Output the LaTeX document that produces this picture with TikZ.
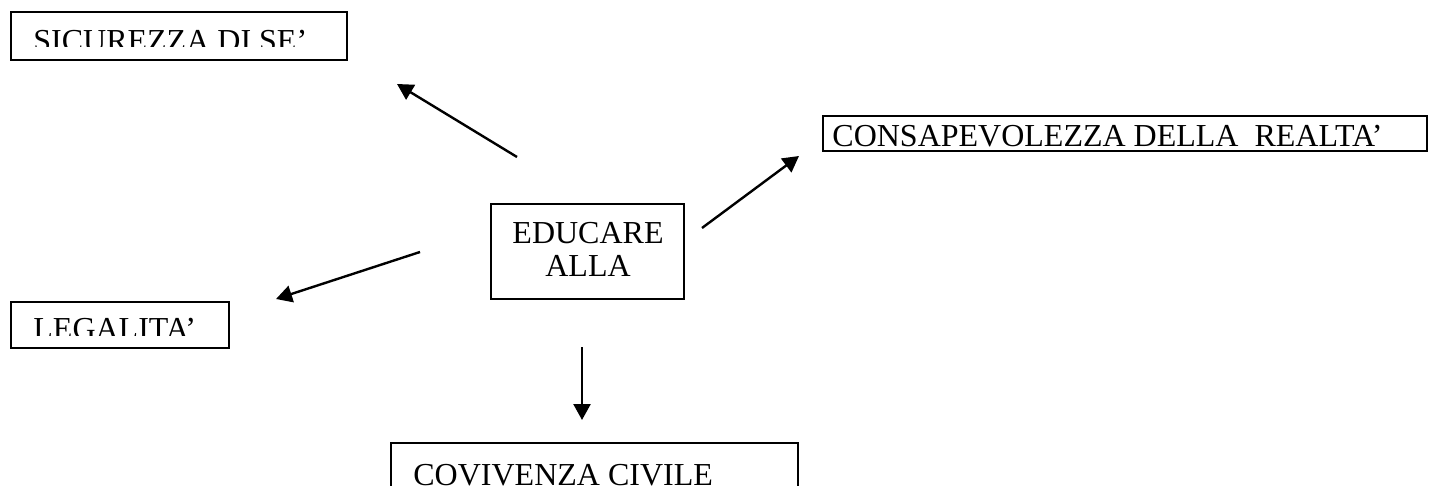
\documentclass[tikz,border=0pt]{standalone}
\usepackage{fontspec}
\setmainfont{Liberation Serif}
\usetikzlibrary{arrows.meta}
\tikzset{
  box/.style={draw, line width=1pt, inner sep=0pt},
  lbl/.style={inner sep=0pt, font=\fontsize{16}{16.5}\selectfont},
  arr/.style={-{Triangle[length=8pt,width=8.5pt]}, line width=1.2pt}
}
\begin{document}
\begin{tikzpicture}[x=0.5pt,y=-0.5pt]
\clip (0,0) rectangle (1429,486);
\node[box, minimum width=168pt, minimum height=24pt] (sic) at (179,36){};
\begin{scope}
\clip (11,12) rectangle (347,47);
\node[lbl, anchor=base west] (sictxt) at (33,52){SICUREZZA DI SE’};
\end{scope}
\node[box, minimum width=302pt, minimum height=17.5pt] (cons) at (1125,133.5){};
\begin{scope}
\clip (823,116) rectangle (1427,148);
\node[lbl, anchor=base west] (constxt) at (832,147){CONSAPEVOLEZZA DELLA\ \ REALTA’};
\end{scope}
\node[box, minimum width=96.5pt, minimum height=47.5pt] (edu) at (587.5,251.5){};
\node[lbl, align=center, anchor=base] (edutxt) at (588,277){EDUCARE\\ALLA};
\node[box, minimum width=109pt, minimum height=23pt] (leg) at (120,325){};
\begin{scope}
\clip (11,302) rectangle (229,335);
\node[lbl, anchor=base west] (legtxt) at (33,339){LEGALITA’};
\end{scope}
\node[box, minimum width=203.5pt, minimum height=43.5pt] (cov) at (594.5,486.5){};
\begin{scope}
\clip (391,443) rectangle (798,485);
\node[lbl, anchor=base west] (covtxt) at (413,485){COVIVENZA CIVILE};
\end{scope}
\coordinate (a1s) at (517,157);
\coordinate (a1e) at (397,84);
\coordinate (a2s) at (702,228);
\coordinate (a2e) at (799,156);
\coordinate (a3s) at (420,252);
\coordinate (a3e) at (276,299);
\coordinate (a4s) at (582,347);
\coordinate (a4e) at (582,420);
\draw[arr] (a1s) -- (a1e);
\draw[arr] (a2s) -- (a2e);
\draw[arr] (a3s) -- (a3e);
\draw[arr] (a4s) -- (a4e);
\end{tikzpicture}
\end{document}
